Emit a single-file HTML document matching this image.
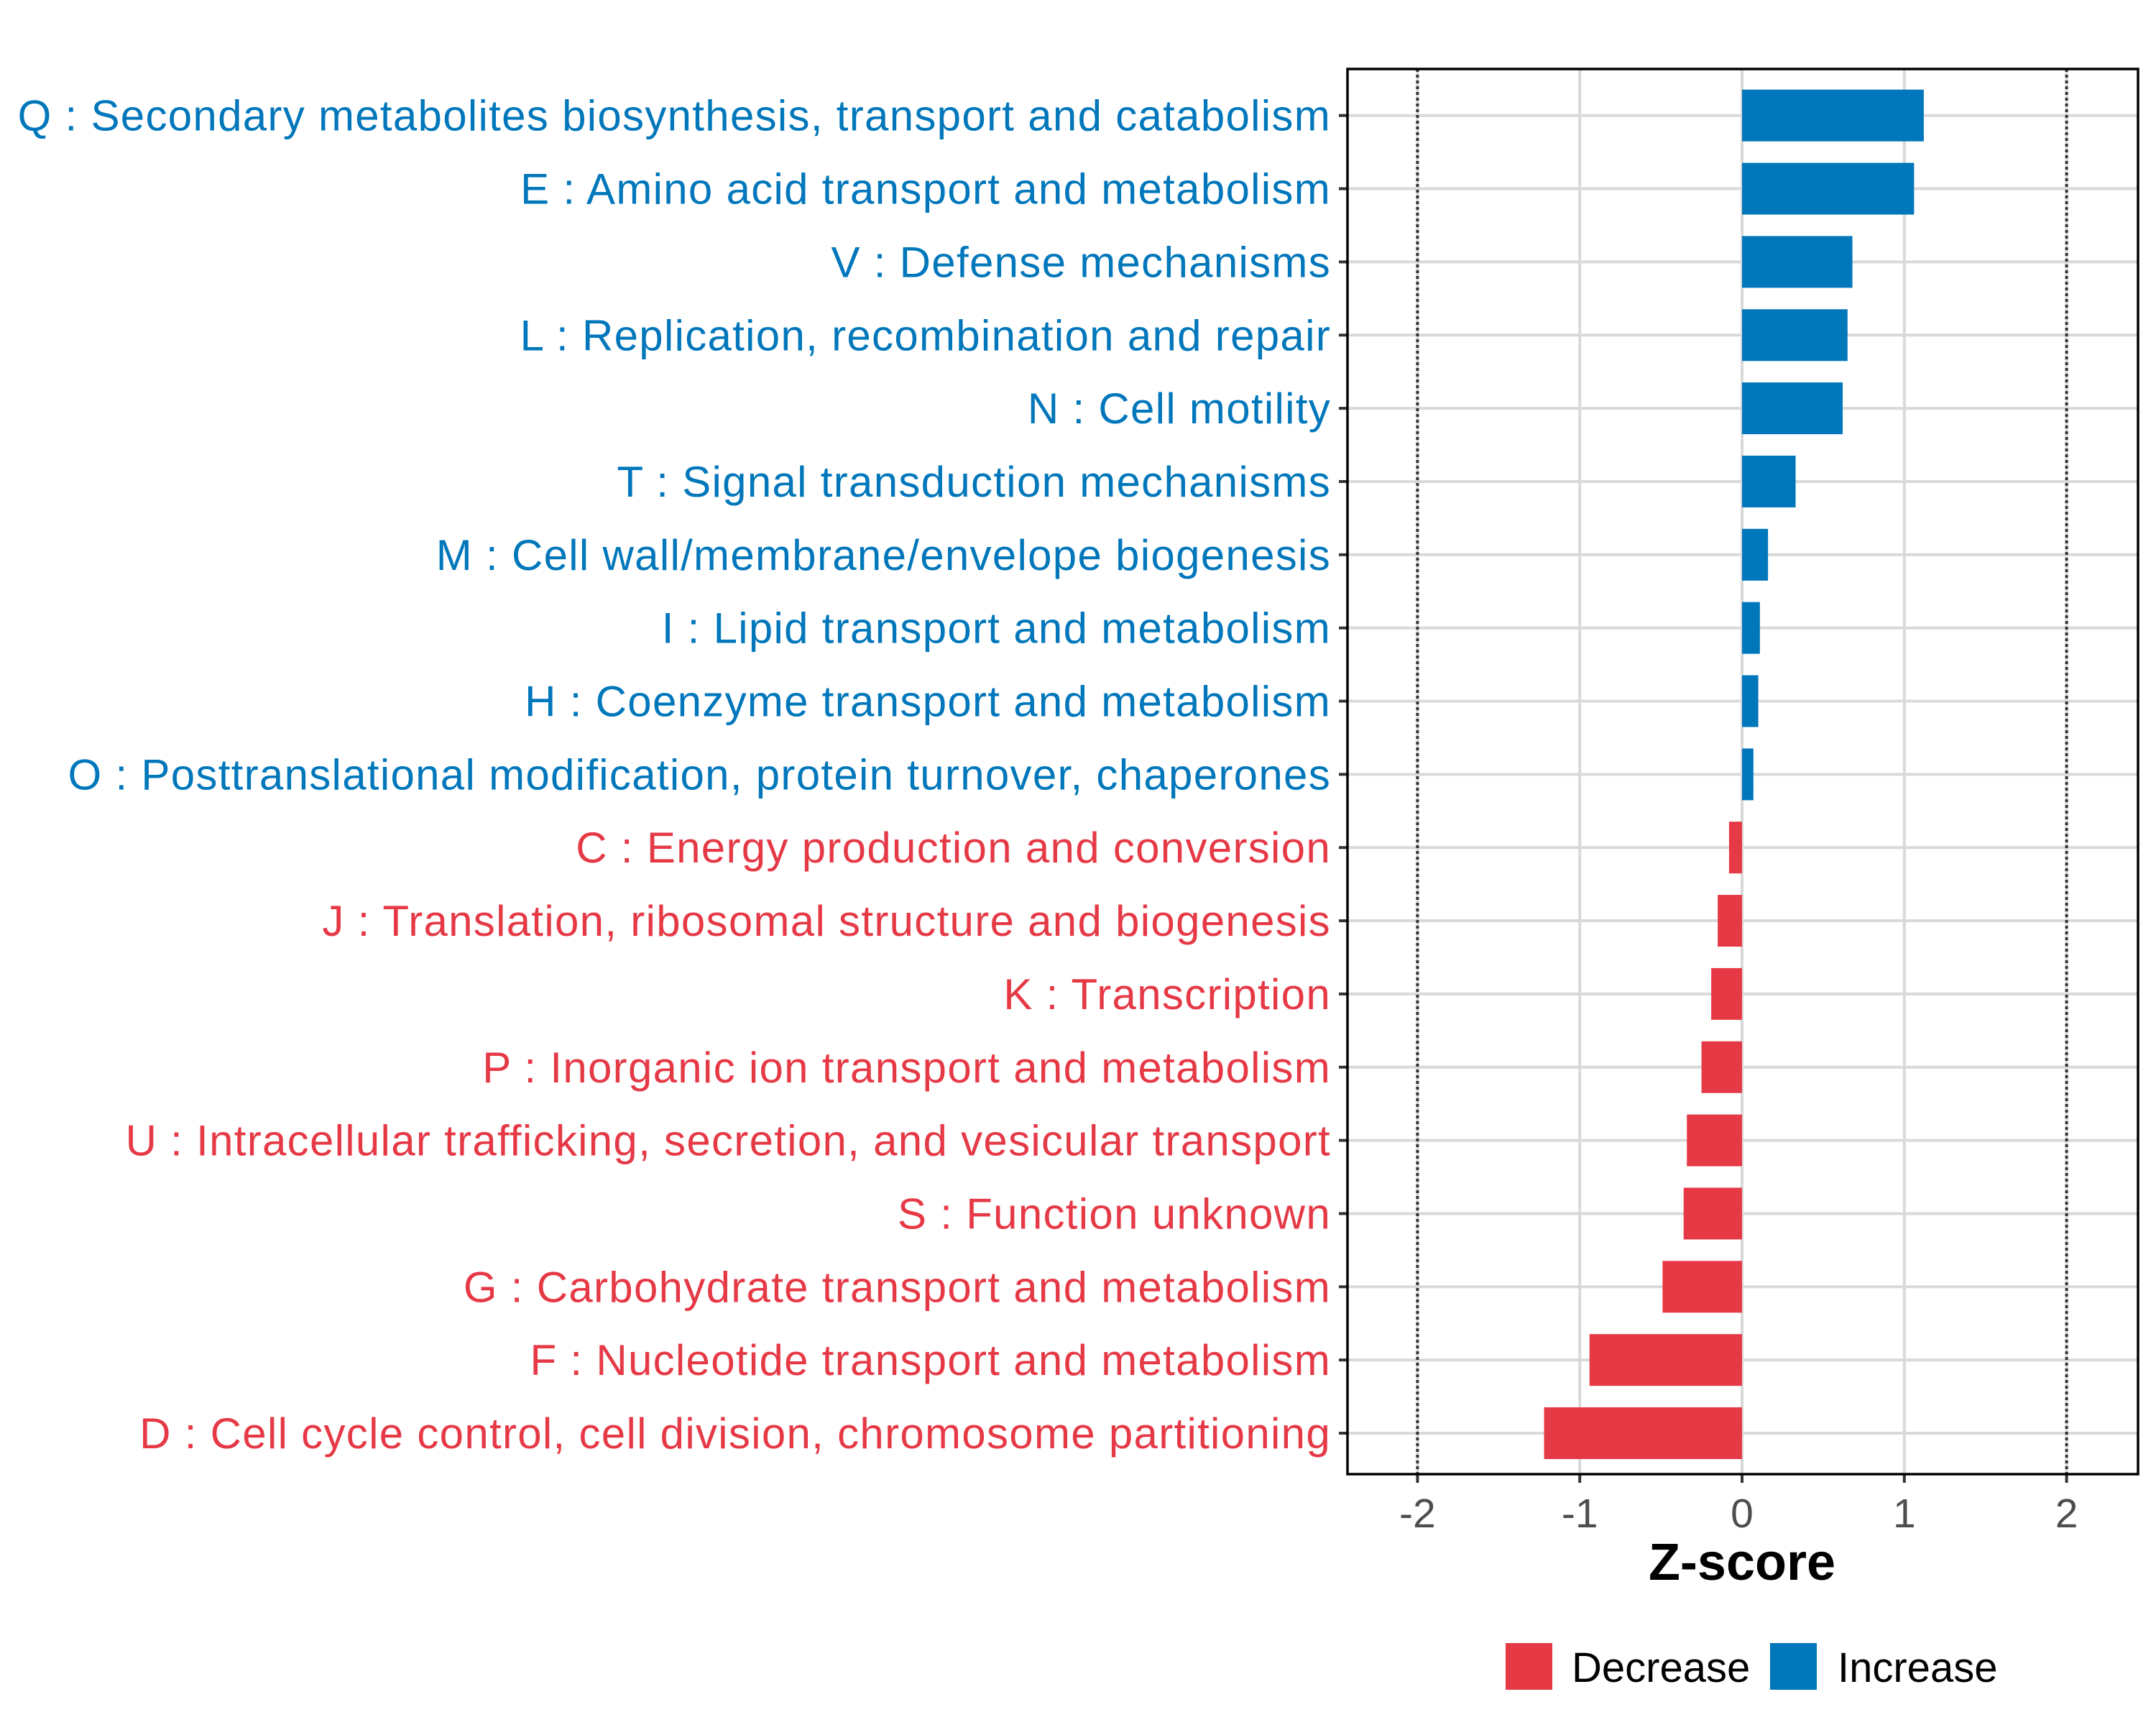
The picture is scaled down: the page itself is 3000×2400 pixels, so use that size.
<!DOCTYPE html>
<html><head><meta charset="utf-8"><style>
body{margin:0;background:#fff}
svg{display:block}
text{font-family:"Liberation Sans",Arial,sans-serif}
</style></head><body>
<svg id="chart" width="3000" height="2400" viewBox="0 0 3000 2400" xmlns="http://www.w3.org/2000/svg">
<rect width="3000" height="2400" fill="#fff"/>
<g id="grid"></g>
<g id="bars"></g>
<g id="ylabels"></g>
<g id="xaxis"></g>
<rect x="1875" y="96" width="1100" height="1955" fill="none" stroke="#000" stroke-width="3.5"/>
<text x="2424" y="2198" font-size="72" font-weight="bold" text-anchor="middle">Z-score</text>
<g>
<rect x="2095" y="2286" width="65" height="65" fill="#E63946"/>
<text x="2187" y="2340" font-size="58">Decrease</text>
<rect x="2463" y="2286" width="65" height="65" fill="#0077BB"/>
<text x="2557" y="2340" font-size="58">Increase</text>
</g>
</svg>
<script>
const categories = [
"Q : Secondary metabolites biosynthesis, transport and catabolism",
"E : Amino acid transport and metabolism",
"V : Defense mechanisms",
"L : Replication, recombination and repair",
"N : Cell motility",
"T : Signal transduction mechanisms",
"M : Cell wall/membrane/envelope biogenesis",
"I : Lipid transport and metabolism",
"H : Coenzyme transport and metabolism",
"O : Posttranslational modification, protein turnover, chaperones",
"C : Energy production and conversion",
"J : Translation, ribosomal structure and biogenesis",
"K : Transcription",
"P : Inorganic ion transport and metabolism",
"U : Intracellular trafficking, secretion, and vesicular transport",
"S : Function unknown",
"G : Carbohydrate transport and metabolism",
"F : Nucleotide transport and metabolism",
"D : Cell cycle control, cell division, chromosome partitioning"
];
const zscores = [1.12,1.06,0.68,0.65,0.62,0.33,0.16,0.11,0.10,0.07,-0.08,-0.15,-0.19,-0.25,-0.34,-0.36,-0.49,-0.94,-1.22];
const xTicks = [-2,-1,0,1,2];
const xTickLabels = ["-2","-1","0","1","2"];
const refLines = [-2,2];

const NS="http://www.w3.org/2000/svg";
const x0=2424, unit=225.8, yTop=160.7, yStep=101.85, barH=72;
const xs=v=>x0+v*unit;
const ys=i=>yTop+i*yStep;
function mk(tag,attrs,parent){const e=document.createElementNS(NS,tag);for(const k in attrs)e.setAttribute(k,attrs[k]);parent.appendChild(e);return e;}
const grid=document.getElementById('grid'),bars=document.getElementById('bars'),yl=document.getElementById('ylabels'),xa=document.getElementById('xaxis');
xTicks.forEach((t,i)=>{
  const g=mk('line',{x1:xs(t),x2:xs(t),y1:96,y2:2051,stroke:'#d9d9d9','stroke-width':4},grid);
  
  
  const tk=mk('line',{x1:xs(t),x2:xs(t),y1:2051,y2:2063,stroke:'#333','stroke-width':4},xa);
  
  
  const tl=mk('text',{x:xs(t),y:2125,'font-size':57,fill:'#4d4d4d','text-anchor':'middle'},xa);
  tl.textContent=xTickLabels[i];
  
  
});
categories.forEach((c,i)=>{
  const g=mk('line',{x1:1875,x2:2975,y1:ys(i),y2:ys(i),stroke:'#d9d9d9','stroke-width':4},grid);
  
  
  const v=zscores[i];
  const col=v>=0?'#0077BB':'#E63946';
  const r=mk('rect',{x:Math.min(xs(0),xs(v)),y:ys(i)-barH/2,width:Math.abs(xs(v)-xs(0)),height:barH,fill:col},bars);
  
  
  const tk=mk('line',{x1:1863,x2:1875,y1:ys(i),y2:ys(i),stroke:'#333','stroke-width':4},yl);
  
  
  const t=mk('text',{x:1852,y:ys(i)+21,'font-size':60,'letter-spacing':1.3,fill:col,'text-anchor':'end'},yl);
  t.textContent=c;
  
  
});
refLines.forEach(v=>{
  const l=mk('line',{x1:xs(v),x2:xs(v),y1:96,y2:2051,stroke:'#333','stroke-width':4,'stroke-dasharray':'4 4'},bars);
  
  
});
</script>
</body></html>
